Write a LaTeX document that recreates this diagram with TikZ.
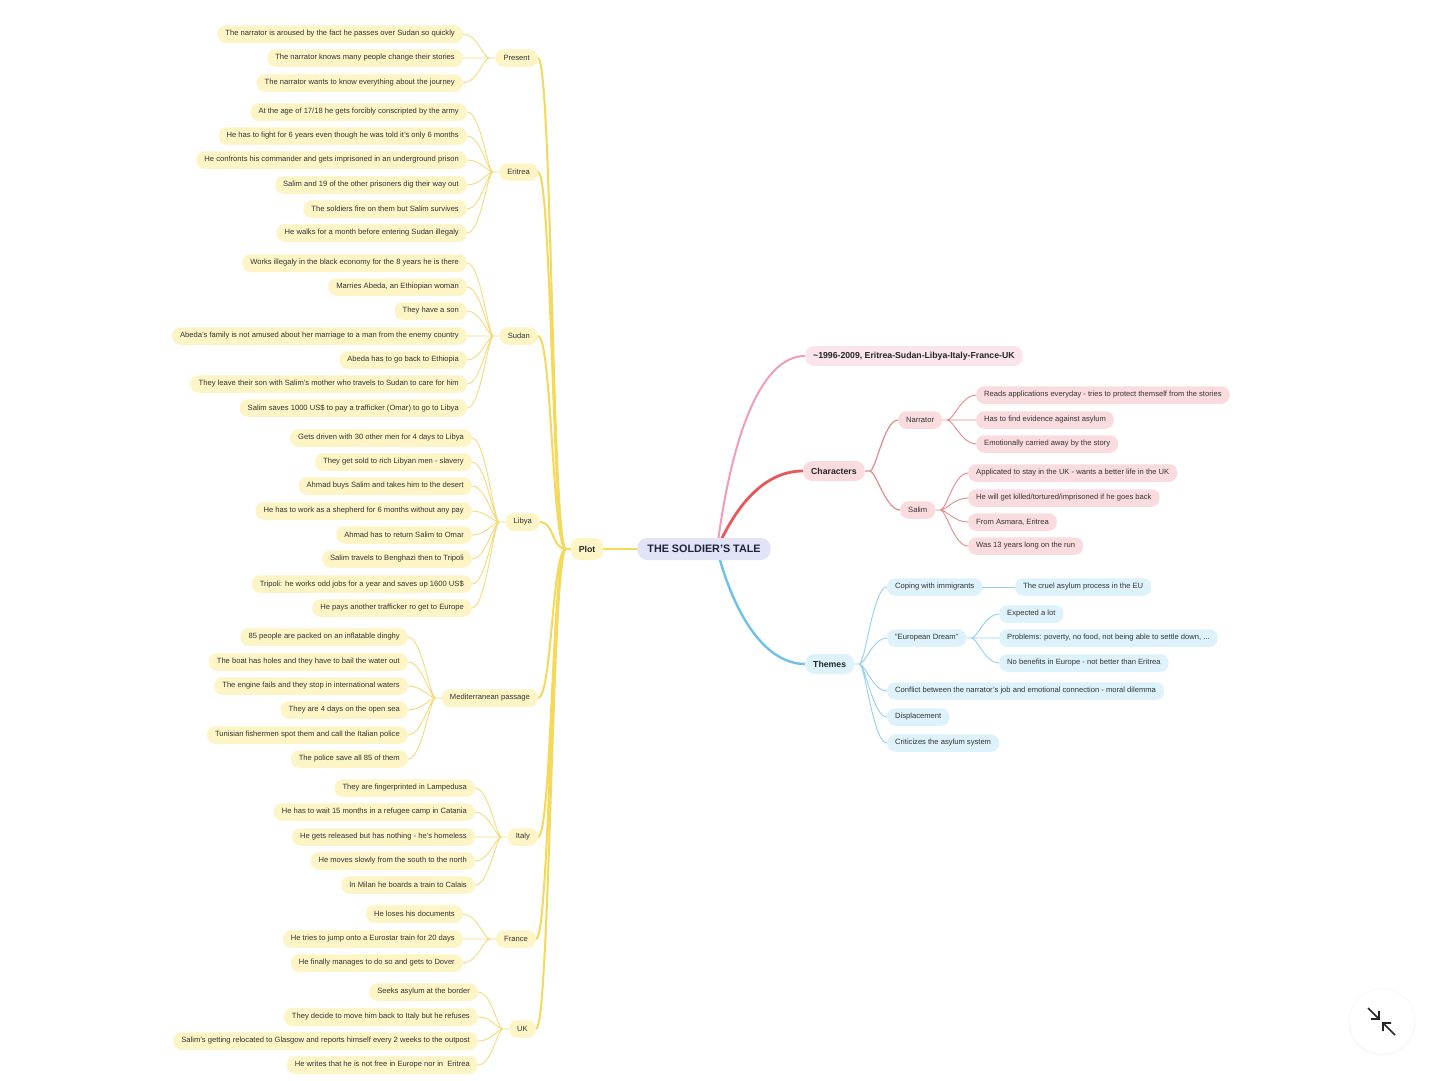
\documentclass[tikz,border=0pt]{standalone}
\usepackage{fontspec}
\setmainfont{Liberation Sans}
\usepackage{tikz}
\usepackage{xcolor}
\definecolor{ylwline}{HTML}{F5D95A}
\definecolor{ylwthin}{HTML}{F3DC7C}
\definecolor{ylwfill}{HTML}{FDF5C6}
\definecolor{pnkline}{HTML}{F29BBB}
\definecolor{pnkfill}{HTML}{FCE4EC}
\definecolor{redline}{HTML}{E8575A}
\definecolor{redthin}{HTML}{E58A8C}
\definecolor{redfill}{HTML}{FADCDE}
\definecolor{bluline}{HTML}{6FC1E9}
\definecolor{bluthin}{HTML}{93D1EE}
\definecolor{blufill}{HTML}{DEF2FB}
\definecolor{rootfill}{HTML}{E1E4F7}
\definecolor{roottxt}{HTML}{1E2240}
\definecolor{txt}{HTML}{333333}
\tikzset{
	topic/.style={rounded corners=8pt,inner xsep=8pt,inner ysep=0pt,minimum height=17.5pt,text=txt,font=\fontsize{7.6}{8}\selectfont},
	branch/.style={rounded corners=9pt,inner xsep=8pt,inner ysep=0pt,minimum height=20pt,text=black!85,font=\fontsize{8.7}{10}\selectfont\bfseries},
	yel/.style={topic,fill=ylwfill},
	rose/.style={topic,fill=redfill},
	sky/.style={topic,fill=blufill},
	lft/.style={draw=ylwthin,line width=0.9pt,to path={.. controls +(-6,0) and +(14,0) .. (\tikztotarget)}},
	rgt/.style={line width=0.9pt,to path={.. controls +(6,0) and +(-14,0) .. (\tikztotarget)}},
	trunk/.style={draw=ylwline,line width=2pt,line cap=round,to path={.. controls +(-14,0) and +(14,0) .. (\tikztotarget)}}
}
\pgfdeclarelayer{paper}
\pgfdeclarelayer{links}
\pgfsetlayers{paper,links,main}

\begin{document}
\begin{tikzpicture}[x=1pt,y=-1pt]
	\useasboundingbox (0,0) rectangle (1440,1080);
	\begin{pgfonlayer}{paper}
	\fill[white] (0,0) rectangle (1440,1080);
	\end{pgfonlayer}
	% centre
	\node[branch,fill=rootfill,rounded corners=10pt,minimum height=22pt,inner xsep=10pt,text=roottxt,font=\fontsize{10.8}{12}\selectfont\bfseries] (tale) at (704,549) {THE SOLDIER'S TALE};
	\coordinate (hub) at (717,549);
	\node[branch,fill=ylwfill,minimum height=22pt] (plot) at (587,549) {Plot};
	\coordinate (plotj) at (566,549);
	% plot
	\node[yel,anchor=east] (pres) at (538,58) {Present};
	\node[yel,anchor=east] (pres1) at (463,34) {The narrator is aroused by the fact he passes over Sudan so quickly};
	\node[yel,anchor=east] (pres2) at (463,58) {The narrator knows many people change their stories};
	\node[yel,anchor=east] (pres3) at (463,83) {The narrator wants to know everything about the journey};
	\node[yel,anchor=east] (erit) at (538,172) {Eritrea};
	\node[yel,anchor=east] (erit1) at (467,112) {At the age of 17/18 he gets forcibly conscripted by the army};
	\node[yel,anchor=east] (erit2) at (467,136) {He has to fight for 6 years even though he was told it's only 6 months};
	\node[yel,anchor=east] (erit3) at (467,160) {He confronts his commander and gets imprisoned in an underground prison};
	\node[yel,anchor=east] (erit4) at (467,185) {Salim and 19 of the other prisoners dig their way out};
	\node[yel,anchor=east] (erit5) at (467,209) {The soldiers fire on them but Salim survives};
	\node[yel,anchor=east] (erit6) at (467,233) {He walks for a month before entering Sudan illegaly};
	\node[yel,anchor=east] (sud) at (538,336) {Sudan};
	\node[yel,anchor=east] (sud1) at (467,263) {Works illegaly in the black economy for the 8 years he is there};
	\node[yel,anchor=east] (sud2) at (467,287) {Marries Abeda, an Ethiopian woman};
	\node[yel,anchor=east] (sud3) at (467,311) {They have a son};
	\node[yel,anchor=east] (sud4) at (467,336) {Abeda's family is not amused about her marriage to a man from the enemy country};
	\node[yel,anchor=east] (sud5) at (467,360) {Abeda has to go back to Ethiopia};
	\node[yel,anchor=east] (sud6) at (467,384) {They leave their son with Salim's mother who travels to Sudan to care for him};
	\node[yel,anchor=east] (sud7) at (467,408) {Salim saves 1000 US\$ to pay a trafficker (Omar) to go to Libya};
	\node[yel,anchor=east] (lib) at (540,522) {Libya};
	\node[yel,anchor=east] (lib1) at (472,438) {Gets driven with 30 other men for 4 days to Libya};
	\node[yel,anchor=east] (lib2) at (472,462) {They get sold to rich Libyan men - slavery};
	\node[yel,anchor=east] (lib3) at (472,486) {Ahmad buys Salim and takes him to the desert};
	\node[yel,anchor=east] (lib4) at (472,511) {He has to work as a shepherd for 6 months without any pay};
	\node[yel,anchor=east] (lib5) at (472,535) {Ahmad has to return Salim to Omar};
	\node[yel,anchor=east] (lib6) at (472,559) {Salim travels to Benghazi then to Tripoli};
	\node[yel,anchor=east] (lib7) at (472,584) {Tripoli: he works odd jobs for a year and saves up 1600 US\$};
	\node[yel,anchor=east] (lib8) at (472,608) {He pays another trafficker ro get to Europe};
	\node[yel,anchor=east] (med) at (538,698) {Mediterranean passage};
	\node[yel,anchor=east] (med1) at (408,637) {85 people are packed on an inflatable dinghy};
	\node[yel,anchor=east] (med2) at (408,662) {The boat has holes and they have to bail the water out};
	\node[yel,anchor=east] (med3) at (408,686) {The engine fails and they stop in international waters};
	\node[yel,anchor=east] (med4) at (408,710) {They are 4 days on the open sea};
	\node[yel,anchor=east] (med5) at (408,735) {Tunisian fishermen spot them and call the Italian police};
	\node[yel,anchor=east] (med6) at (408,759) {The police save all 85 of them};
	\node[yel,anchor=east] (ita) at (538,837) {Italy};
	\node[yel,anchor=east] (ita1) at (475,788) {They are fingerprinted in Lampedusa};
	\node[yel,anchor=east] (ita2) at (475,812) {He has to wait 15 months in a refugee camp in Catania};
	\node[yel,anchor=east] (ita3) at (475,837) {He gets released but has nothing - he's homeless};
	\node[yel,anchor=east] (ita4) at (475,861) {He moves slowly from the south to the north};
	\node[yel,anchor=east] (ita5) at (475,885) {In Milan he boards a train to Calais};
	\node[yel,anchor=east] (fra) at (536,939) {France};
	\node[yel,anchor=east] (fra1) at (463,914) {He loses his documents};
	\node[yel,anchor=east] (fra2) at (463,939) {He tries to jump onto a Eurostar train for 20 days};
	\node[yel,anchor=east] (fra3) at (463,963) {He finally manages to do so and gets to Dover};
	\node[yel,anchor=east] (uk) at (536,1029) {UK};
	\node[yel,anchor=east] (uk1) at (478,992) {Seeks asylum at the border};
	\node[yel,anchor=east] (uk2) at (478,1017) {They decide to move him back to Italy but he refuses};
	\node[yel,anchor=east] (uk3) at (478,1041) {Salim's getting relocated to Glasgow and reports himself every 2 weeks to the outpost};
	\node[yel,anchor=east] (uk4) at (478,1065) {He writes that he is not free in Europe nor in\ \ Eritrea};
	% right side
	\node[branch,fill=pnkfill,anchor=west] (date) at (805,356) {\textasciitilde1996-2009, Eritrea-Sudan-Libya-Italy-France-UK};
	\node[branch,fill=redfill,anchor=west] (chars) at (803,471) {Characters};
	\node[rose,anchor=west] (narr) at (898,420) {Narrator};
	\node[rose,anchor=west] (narr1) at (976,395) {Reads applications everyday - tries to protect themself from the stories};
	\node[rose,anchor=west] (narr2) at (976,420) {Has to find evidence against asylum};
	\node[rose,anchor=west] (narr3) at (976,444) {Emotionally carried away by the story};
	\node[rose,anchor=west] (salim) at (900,510) {Salim};
	\node[rose,anchor=west] (salim1) at (968,473) {Applicated to stay in the UK - wants a better life in the UK};
	\node[rose,anchor=west] (salim2) at (968,498) {He will get killed/tortured/imprisoned if he goes back};
	\node[rose,anchor=west] (salim3) at (968,522) {From Asmara, Eritrea};
	\node[rose,anchor=west] (salim4) at (968,546) {Was 13 years long on the run};
	\node[branch,fill=blufill,anchor=west] (them) at (805,664) {Themes};
	\node[sky,anchor=west] (cope) at (887,587) {Coping with immigrants};
	\node[sky,anchor=west] (cruel) at (1015,587) {The cruel asylum process in the EU};
	\node[sky,anchor=west] (dream) at (887,638) {"European Dream"};
	\node[sky,anchor=west] (dream1) at (999,614) {Expected a lot};
	\node[sky,anchor=west] (dream2) at (999,638) {Problems: poverty, no food, not being able to settle down, ...};
	\node[sky,anchor=west] (dream3) at (999,663) {No benefits in Europe - not better than Eritrea};
	\node[sky,anchor=west] (conf) at (887,691) {Conflict between the narrator's job and emotional connection - moral dilemma};
	\node[sky,anchor=west] (disp) at (887,717) {Displacement};
	\node[sky,anchor=west] (crit) at (887,743) {Criticizes the asylum system};
	\begin{pgfonlayer}{links}
	\draw[trunk] (tale.west) -- (plot.east);
	\draw[trunk] (plot.west) -- (plotj) to (pres.east) (plotj) to (erit.east) (plotj) to (sud.east) (plotj) to (lib.east)
		(plotj) to (med.east) (plotj) to (ita.east) (plotj) to (fra.east) (plotj) to (uk.east);
	\draw[lft] (pres.west) -- ++(-6,0) coordinate (presj) to (pres1.east) (presj) to (pres2.east) (presj) to (pres3.east);
	\draw[lft] (erit.west) -- ++(-6,0) coordinate (eritj) to (erit1.east) (eritj) to (erit2.east) (eritj) to (erit3.east)
		(eritj) to (erit4.east) (eritj) to (erit5.east) (eritj) to (erit6.east);
	\draw[lft] (sud.west) -- ++(-6,0) coordinate (sudj) to (sud1.east) (sudj) to (sud2.east) (sudj) to (sud3.east)
		(sudj) to (sud4.east) (sudj) to (sud5.east) (sudj) to (sud6.east) (sudj) to (sud7.east);
	\draw[lft] (lib.west) -- ++(-6,0) coordinate (libj) to (lib1.east) (libj) to (lib2.east) (libj) to (lib3.east) (libj) to (lib4.east)
		(libj) to (lib5.east) (libj) to (lib6.east) (libj) to (lib7.east) (libj) to (lib8.east);
	\draw[lft] (med.west) -- ++(-6,0) coordinate (medj) to (med1.east) (medj) to (med2.east) (medj) to (med3.east)
		(medj) to (med4.east) (medj) to (med5.east) (medj) to (med6.east);
	\draw[lft] (ita.west) -- ++(-6,0) coordinate (itaj) to (ita1.east) (itaj) to (ita2.east) (itaj) to (ita3.east)
		(itaj) to (ita4.east) (itaj) to (ita5.east);
	\draw[lft] (fra.west) -- ++(-6,0) coordinate (fraj) to (fra1.east) (fraj) to (fra2.east) (fraj) to (fra3.east);
	\draw[lft] (uk.west) -- ++(-6,0) coordinate (ukj) to (uk1.east) (ukj) to (uk2.east) (ukj) to (uk3.east) (ukj) to (uk4.east);
	\draw[pnkline,line width=2pt] (hub) .. controls +(14,-110) and +(-45,0) .. (date.west);
	\draw[redline,line width=2.8pt] (hub) .. controls +(22,-50) and +(-35,0) .. (chars.west);
	\draw[bluline,line width=2.4pt] (hub) .. controls +(18,70) and +(-38,0) .. (them.west);
	\draw[rgt,draw=redthin,line width=1.2pt] (chars.east) -- ++(5,0) coordinate (charj) to (narr.west) (charj) to (salim.west);
	\draw[rgt,draw=redthin] (narr.east) -- ++(5,0) coordinate (narrj) to (narr1.west) (narrj) to (narr2.west) (narrj) to (narr3.west);
	\draw[rgt,draw=redthin] (salim.east) -- ++(5,0) coordinate (salimj) to (salim1.west) (salimj) to (salim2.west)
		(salimj) to (salim3.west) (salimj) to (salim4.west);
	\draw[rgt,draw=bluthin] (them.east) -- ++(5,0) coordinate (themj) to (cope.west) (themj) to (dream.west) (themj) to (conf.west)
		(themj) to (disp.west) (themj) to (crit.west);
	\draw[bluthin,line width=0.9pt] (cope.east) -- (cruel.west);
	\draw[rgt,draw=bluthin] (dream.east) -- ++(5,0) coordinate (dreamj) to (dream1.west) (dreamj) to (dream2.west) (dreamj) to (dream3.west);
	\end{pgfonlayer}
	% zoom button
	\fill[black!2] (1382,1022) circle[radius=34pt];
	\fill[white] (1382,1021) circle[radius=32pt];
	\draw[line width=1.6pt,black!85] (1368,1008) -- (1379,1019) (1379,1011) -- (1379,1019) -- (1371,1019);
	\draw[line width=1.6pt,black!85] (1395,1035) -- (1383,1023) (1383,1031) -- (1383,1023) -- (1391,1023);
\end{tikzpicture}
\end{document}
